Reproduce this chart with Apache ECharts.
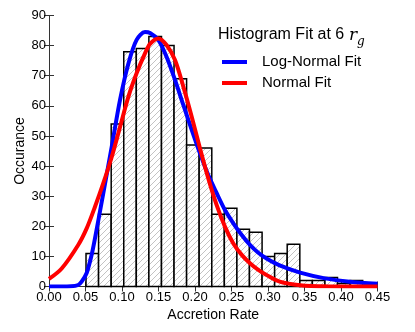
<!DOCTYPE html>
<html>
<head>
<meta charset="utf-8">
<script src="https://cdn.jsdelivr.net/npm/echarts@6/dist/echarts.min.js"></script>
<style>
  html, body { margin: 0; padding: 0; background: #fff; }
  #chart { width: 415px; height: 332px; }
</style>
</head>
<body>
<div id="chart"></div>
<script>
"use strict";

// histogram bin edges (accretion rate) and counts per bin
var binEdges = [0.0507, 0.0679, 0.0852, 0.1024, 0.1196, 0.1368, 0.1541, 0.1713, 0.1885,
    0.2057, 0.2230, 0.2402, 0.2574, 0.2746, 0.2919, 0.3091, 0.3263, 0.3436, 0.3608,
    0.3780, 0.3952, 0.4125, 0.4297];
var binCounts = [11, 24, 54, 78, 79, 83, 80, 69, 47, 46, 24, 26, 19, 18, 10, 11, 14, 2, 2, 3, 1, 2];

// fitted curves as [rate, occurance]
var logNormalFit = [[0, 0], [0.030, 0.1], [0.040, 0.5], [0.0447, 1.6], [0.0516, 4.5], [0.0584, 10.5],
    [0.063, 16], [0.0744, 31], [0.0859, 46.4], [0.0973, 62], [0.1087, 74], [0.120, 81.9],
    [0.1315, 84.5], [0.1384, 84.2], [0.1497, 81.9], [0.161, 76.3], [0.1726, 68.6], [0.184, 60.3],
    [0.1955, 52], [0.2068, 44.2], [0.2182, 37], [0.2297, 31], [0.241, 25.4], [0.2525, 21],
    [0.264, 17.1], [0.2753, 13.8], [0.2867, 11.2], [0.298, 9.3], [0.316, 7.0], [0.344, 4.6],
    [0.378, 2.7], [0.412, 1.6], [0.45, 0.9]];
var normalFit = [[0, 2.5], [0.0174, 6.0], [0.040, 13.8], [0.0516, 19.3], [0.063, 26.5], [0.0744, 34.3],
    [0.0859, 43], [0.0973, 53], [0.1087, 63], [0.120, 70.8], [0.1315, 77.4], [0.1384, 80.6],
    [0.1497, 82.4], [0.161, 80.2], [0.1726, 75.2], [0.184, 66.4], [0.1955, 56.4], [0.2068, 45.9],
    [0.2182, 35.9], [0.2297, 27], [0.241, 19.9], [0.2525, 14.3], [0.264, 10.5], [0.2753, 7.7],
    [0.2867, 5.5], [0.298, 3.8], [0.316, 1.6], [0.344, 0.4], [0.38, 0.05], [0.45, 0]];

var xTicks = { min: 0, max: 0.45, step: 0.05 };
var yTicks = { min: 0, max: 90, step: 10 };

var histData = binCounts.map(function (c, i) {
    return [binEdges[i], binEdges[i + 1], c];
});

// diagonal hatch used inside the bars
function makeHatch() {
    var c = document.createElement('canvas');
    c.width = 6;
    c.height = 6;
    var ctx = c.getContext('2d');
    ctx.fillStyle = '#fff';
    ctx.fillRect(0, 0, 6, 6);
    ctx.strokeStyle = '#b4b4b4';
    ctx.lineWidth = 0.8;
    ctx.beginPath();
    ctx.moveTo(0, 6); ctx.lineTo(6, 0);
    ctx.moveTo(-1, 1); ctx.lineTo(1, -1);
    ctx.moveTo(5, 7); ctx.lineTo(7, 5);
    ctx.stroke();
    return { image: c, repeat: 'repeat' };
}
var hatch = makeHatch();

var font = 'Liberation Sans';
var frame = { show: true, lineStyle: { color: '#333', width: 1 } };
var inTick = { show: true, inside: true, length: 5, lineStyle: { color: '#333' } };

var chart = echarts.init(document.getElementById('chart'), null, { renderer: 'canvas' });

chart.setOption({
    animation: false,
    backgroundColor: '#fff',
    grid: { left: 49, right: 37.5, top: 15.5, bottom: 45.5 },
    legend: {
        orient: 'vertical',
        left: 222,
        top: 54,
        padding: 0,
        icon: 'rect',
        itemWidth: 25,
        itemHeight: 4,
        itemGap: 5,
        data: ['Log-Normal Fit', 'Normal Fit'],
        textStyle: { fontFamily: font, fontSize: 15, color: '#000', lineHeight: 16, padding: [0, 0, 0, 10] }
    },
    graphic: [
        { type: 'text', left: 218, top: 27, style: { text: 'Histogram Fit at 6', font: '16px "Liberation Sans"', fill: '#000' } },
        { type: 'text', left: 349, top: 27, style: { text: 'r', font: 'italic 17px "DejaVu Serif"', fill: '#000' } },
        { type: 'text', left: 357, top: 36, style: { text: 'g', font: 'italic 12px "DejaVu Serif"', fill: '#000' } }
    ],
    xAxis: [{
        type: 'value',
        min: xTicks.min, max: xTicks.max, interval: xTicks.step,
        name: 'Accretion Rate',
        nameLocation: 'middle',
        nameGap: 19,
        nameTextStyle: { fontFamily: font, fontSize: 14, color: '#000' },
        axisLine: frame,
        axisTick: inTick,
        splitLine: { show: false },
        axisLabel: {
            fontFamily: font, fontSize: 13, color: '#000', margin: 4,
            formatter: function (v) { return v.toFixed(2); }
        }
    }, {
        type: 'value', position: 'top',
        min: xTicks.min, max: xTicks.max, interval: xTicks.step,
        axisLine: frame, axisTick: inTick, axisLabel: { show: false }, splitLine: { show: false }
    }],
    yAxis: [{
        type: 'value',
        min: yTicks.min, max: yTicks.max, interval: yTicks.step,
        name: 'Occurance',
        nameLocation: 'middle',
        nameGap: 22,
        nameMoveOverlap: false,
        nameTextStyle: { fontFamily: font, fontSize: 14, color: '#000' },
        axisLine: frame,
        axisTick: inTick,
        splitLine: { show: false },
        axisLabel: { fontFamily: font, fontSize: 13, color: '#000', margin: 3 }
    }, {
        type: 'value', position: 'right',
        min: yTicks.min, max: yTicks.max, interval: yTicks.step,
        axisLine: frame, axisTick: inTick, axisLabel: { show: false }, splitLine: { show: false }
    }],
    series: [{
        name: 'Histogram',
        type: 'custom',
        data: histData,
        encode: { x: [0, 1], y: 2 },
        renderItem: function (params, api) {
            var p0 = api.coord([api.value(0), api.value(2)]);
            var p1 = api.coord([api.value(1), 0]);
            return {
                type: 'rect',
                shape: { x: p0[0], y: p0[1], width: p1[0] - p0[0], height: p1[1] - p0[1] },
                style: { fill: hatch, stroke: '#000', lineWidth: 1.5 }
            };
        }
    }, {
        name: 'Log-Normal Fit',
        type: 'line',
        data: logNormalFit,
        color: '#0000ff',
        smooth: 0.3,
        showSymbol: false,
        symbol: 'none',
        lineStyle: { width: 4, color: '#0000ff' }
    }, {
        name: 'Normal Fit',
        type: 'line',
        data: normalFit,
        color: '#ff0000',
        smooth: 0.3,
        showSymbol: false,
        symbol: 'none',
        lineStyle: { width: 4, color: '#ff0000' }
    }]
});
</script>
</body>
</html>
